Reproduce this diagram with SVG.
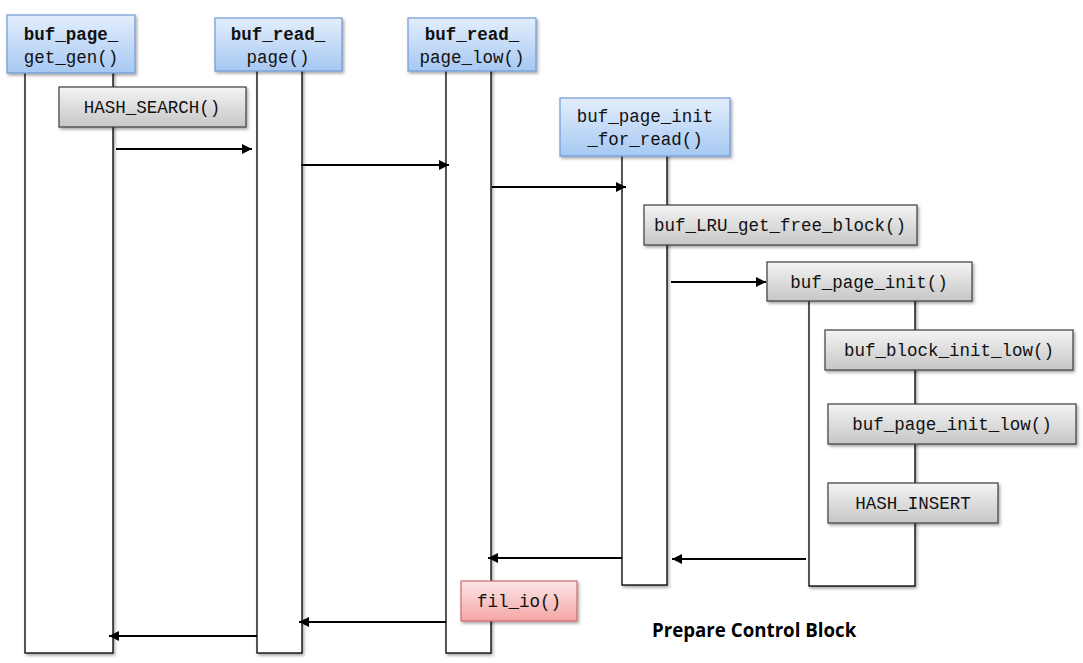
<svg xmlns="http://www.w3.org/2000/svg" width="1083" height="663" viewBox="0 0 1083 663">
<defs>
  <linearGradient id="gBlue" x1="0" y1="0" x2="0" y2="1">
    <stop offset="0" stop-color="#e3eefc"/>
    <stop offset="1" stop-color="#a6c8f2"/>
  </linearGradient>
  <linearGradient id="gGray" x1="0" y1="0" x2="0" y2="1">
    <stop offset="0" stop-color="#f4f4f4"/>
    <stop offset="1" stop-color="#c6c6c6"/>
  </linearGradient>
  <linearGradient id="gPink" x1="0" y1="0" x2="0" y2="1">
    <stop offset="0" stop-color="#fde6e6"/>
    <stop offset="1" stop-color="#f4a6a6"/>
  </linearGradient>
  <filter id="sh" x="-10%" y="-10%" width="130%" height="140%">
    <feDropShadow dx="1.5" dy="2" stdDeviation="1.5" flood-color="#000" flood-opacity="0.35"/>
  </filter>
  <marker id="ah" viewBox="0 0 10 10" refX="10" refY="5" markerWidth="11" markerHeight="10" markerUnits="userSpaceOnUse" orient="auto">
    <path d="M0,0 L10,5 L0,10 z" fill="#000"/>
  </marker>
</defs>
<style>
  .life { fill: #fff; stroke: #000; stroke-width: 1.3; filter: url(#sh); }
  .hdr { fill: url(#gBlue); stroke: #6e9ad6; stroke-width: 1.2; filter: url(#sh); }
  .gry { fill: url(#gGray); stroke: #3c3c3c; stroke-width: 1.2; filter: url(#sh); }
  .pnk { fill: url(#gPink); stroke: #cf6a6a; stroke-width: 1.2; filter: url(#sh); }
  .t { font-family: "Liberation Mono", "DejaVu Sans Mono", monospace; font-size: 17.5px; fill: #111; text-anchor: middle; }
  .tb { font-weight: bold; }
  .msg { stroke: #000; stroke-width: 2; fill: none; marker-end: url(#ah); }
  .cap { font-family: "Open Sans", "Liberation Sans", sans-serif; font-weight: bold; font-size: 18.7px; fill: #000; }
</style>

<g id="lifelines">
  <rect id="life-get-gen" class="life" x="25" y="60" width="88" height="593"/>
  <rect id="life-read-page" class="life" x="257" y="60" width="45" height="593"/>
  <rect id="life-read-page-low" class="life" x="446" y="60" width="45" height="593"/>
  <rect id="life-init-for-read" class="life" x="622" y="140" width="45" height="445"/>
  <rect id="life-page-init" class="life" x="809" y="290" width="106" height="296"/>
</g>

<g id="connectors">
  <line class="msg" x1="116" y1="149" x2="252" y2="149"/>
  <line class="msg" x1="301" y1="165" x2="449" y2="165"/>
  <line class="msg" x1="492" y1="187" x2="626" y2="187"/>
  <line class="msg" x1="671" y1="282" x2="766" y2="282"/>
  <line class="msg" x1="806" y1="559" x2="672" y2="559"/>
  <line class="msg" x1="622" y1="558" x2="488" y2="558"/>
  <line class="msg" x1="446" y1="622" x2="299" y2="622"/>
  <line class="msg" x1="257" y1="636" x2="109" y2="636"/>
</g>

<g id="n-buf_page_get_gen">
  <rect class="hdr" x="7" y="15" width="128" height="58"/>
  <text class="t tb" x="71" y="40">buf_page_</text>
  <text class="t" x="71" y="63">get_gen()</text>
</g>
<g id="n-buf_read_page">
  <rect class="hdr" x="215" y="18" width="127" height="53"/>
  <text class="t tb" x="278" y="40">buf_read_</text>
  <text class="t" x="278" y="63">page()</text>
</g>
<g id="n-buf_read_page_low">
  <rect class="hdr" x="408" y="18" width="128" height="53"/>
  <text class="t tb" x="472" y="40">buf_read_</text>
  <text class="t" x="472" y="63">page_low()</text>
</g>
<g id="n-buf_page_init_for_read">
  <rect class="hdr" x="560" y="98" width="170" height="58"/>
  <text class="t" x="645" y="122">buf_page_init</text>
  <text class="t" x="645" y="145">_for_read()</text>
</g>

<g id="n-hash_search">
  <rect class="gry" x="59" y="87" width="187" height="40"/>
  <text class="t" x="152" y="113">HASH_SEARCH()</text>
</g>
<g id="n-buf_lru_get_free_block">
  <rect class="gry" x="644" y="205" width="273" height="40"/>
  <text class="t" x="780" y="231">buf_LRU_get_free_block()</text>
</g>
<g id="n-buf_page_init">
  <rect class="gry" x="767" y="262" width="205" height="39"/>
  <text class="t" x="869" y="288">buf_page_init()</text>
</g>
<g id="n-buf_block_init_low">
  <rect class="gry" x="825" y="330" width="248" height="40"/>
  <text class="t" x="949" y="356">buf_block_init_low()</text>
</g>
<g id="n-buf_page_init_low">
  <rect class="gry" x="828" y="404" width="248" height="40"/>
  <text class="t" x="952" y="430">buf_page_init_low()</text>
</g>
<g id="n-hash_insert">
  <rect class="gry" x="828" y="483" width="170" height="40"/>
  <text class="t" x="913" y="509">HASH_INSERT</text>
</g>
<g id="n-fil_io">
  <rect class="pnk" x="461" y="581" width="116" height="40"/>
  <text class="t" x="519" y="607">fil_io()</text>
</g>

<text class="cap" x="652" y="637">Prepare Control Block</text>
</svg>
